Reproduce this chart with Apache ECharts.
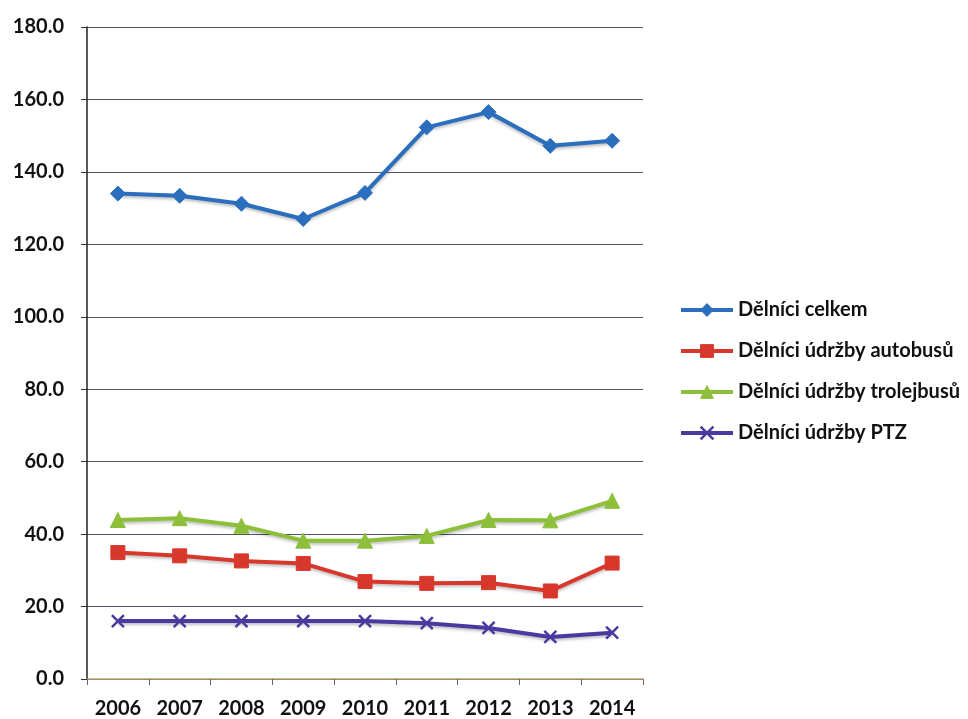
<!DOCTYPE html>
<html><head><meta charset="utf-8">
<script src="https://cdn.jsdelivr.net/npm/echarts@6/dist/echarts.min.js"></script>
<style>html,body{margin:0;padding:0;background:#fff}#c{width:968px;height:719px}</style>
</head><body><div id="c"></div>
<script>
const years = ['2006','2007','2008','2009','2010','2011','2012','2013','2014'];
const seriesNames = ['Dělníci celkem','Dělníci údržby autobusů','Dělníci údržby trolejbusů','Dělníci údržby PTZ'];
const celkem = [134.0, 133.4, 131.2, 127.0, 134.2, 152.3, 156.5, 147.2, 148.6];
const autobusy = [34.9, 34.0, 32.6, 31.9, 26.9, 26.4, 26.6, 24.3, 32.0];
const trolejbusy = [43.9, 44.4, 42.3, 38.2, 38.2, 39.5, 43.9, 43.8, 49.2];
const ptz = [16.0, 16.0, 16.0, 16.0, 16.0, 15.4, 14.1, 11.6, 12.8];
const colors = ['#2a6ebd','#d8382c','#8dbf3a','#4a3aa0'];
const symbols = ['diamond','rect','triangle','path://M0,0L10,10M10,0L0,10'];
const datas = [celkem, autobusy, trolejbusy, ptz];
const font = 'Lato, "Open Sans", sans-serif';
const chart = echarts.init(document.getElementById('c'));
chart.setOption({
  animation:false,
  grid:{left:87,right:325,top:27,bottom:40},
  legend:{orient:'vertical',left:674,top:295,itemGap:21,itemWidth:52,itemHeight:16,
    lineStyle:{width:4},
    textStyle:{fontFamily:font,fontWeight:'bold',fontSize:20,color:'#111'},
    data:seriesNames.map((n,i)=>({name:n,itemStyle:{borderWidth:i===3?2.5:1}}))},
  xAxis:{type:'category',data:years,boundaryGap:true,
    axisLine:{lineStyle:{color:'#b9a36a',width:1.5}},
    axisTick:{show:true,length:6,lineStyle:{color:'#666'}},
    axisLabel:{fontFamily:font,fontWeight:'bold',fontSize:20,color:'#111',margin:20}},
  yAxis:{type:'value',min:0,max:180,interval:20,
    axisLine:{show:true,lineStyle:{color:'#222',width:1.5}},
    axisTick:{show:true,length:6,lineStyle:{color:'#333'}},
    splitLine:{lineStyle:{color:'#4e5a66',width:1.2}},
    axisLabel:{fontFamily:font,fontWeight:'bold',fontSize:20,color:'#111',margin:23,
      formatter:v=>v.toFixed(1)}},
  series: seriesNames.map((n,i)=>({
    name:n,type:'line',data:datas[i],symbol:symbols[i],
    symbolSize: i===1?14:(i===3?12:15),
    lineStyle:{width:4,color:colors[i],shadowColor:'rgba(0,0,0,0.25)',shadowBlur:3,shadowOffsetY:2},
    itemStyle:{color:colors[i],borderColor:colors[i],borderWidth:i===3?2.5:1}
  }))
});
</script></body></html>
